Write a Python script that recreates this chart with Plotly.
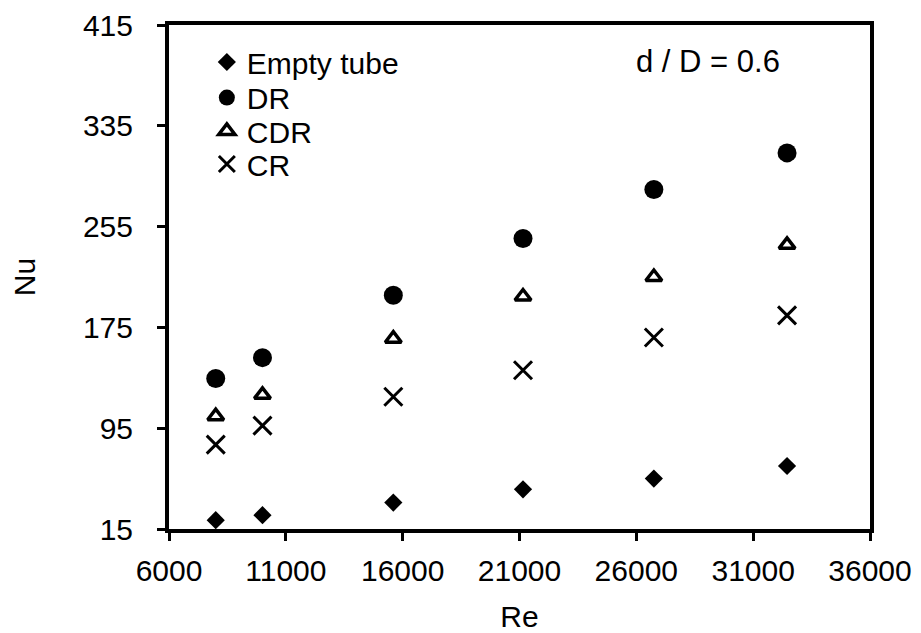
import plotly.graph_objects as go

re_vals = [8000, 10000, 15600, 21150, 26750, 32450]
nu_empty = [22, 26, 36, 46.5, 55, 65]
nu_dr = [134.5, 151, 200.5, 245.5, 284.5, 313.5]
nu_cdr = [104.5, 121.5, 166, 199.5, 215, 240.5]
nu_cr = [82, 97, 120, 141, 167, 184.5]

x_ticks = [6000, 11000, 16000, 21000, 26000, 31000, 36000]
x_ticktext = ["6000", "11000", "16000", "21000", "26000", "31000", "36000"]
y_ticks = [15, 95, 175, 255, 335, 415]
y_ticktext = ["15", "95", "175", "255", "335", "415"]

FONT = "Liberation Sans, Arial, sans-serif"

fig = go.Figure()
fig.add_trace(go.Scatter(x=re_vals, y=nu_empty, mode="markers", name="Empty tube",
                         legend="legend",
                         marker=dict(symbol="diamond", size=14, color="black")))
fig.add_trace(go.Scatter(x=re_vals, y=nu_dr, mode="markers", name="DR",
                         legend="legend2",
                         marker=dict(symbol="circle", size=19, color="black")))
fig.add_trace(go.Scatter(x=re_vals, y=nu_cdr, mode="markers", name="CDR",
                         legend="legend3",
                         marker=dict(symbol="triangle-up-open", size=14, color="black",
                                     line=dict(width=3.5, color="black"))))
fig.add_trace(go.Scatter(x=re_vals, y=nu_cr, mode="markers", name="CR",
                         legend="legend4",
                         marker=dict(symbol="x-thin", size=18, color="black",
                                     line=dict(width=3, color="black"))))

axis_common = dict(showline=True, linewidth=4, linecolor="black", mirror=True,
                   ticks="outside", ticklen=8, tickwidth=3, tickcolor="black",
                   showgrid=False, zeroline=False,
                   tickfont=dict(family=FONT, size=30, color="black"))

def leg(y):
    return dict(x=0.054, y=y, xanchor="left", yanchor="middle",
                bgcolor="rgba(0,0,0,0)", font=dict(size=30, family=FONT),
                itemwidth=30)

fig.update_layout(
    width=913, height=625,
    margin=dict(l=161, r=51, t=17, b=104, autoexpand=False),
    paper_bgcolor="white", plot_bgcolor="white",
    font=dict(family=FONT, color="black"),
    xaxis=dict(range=[6000, 36000], tickvals=x_ticks, ticktext=x_ticktext,
               ticklabelstandoff=4,
               title=dict(text="Re", font=dict(size=30), standoff=24), **axis_common),
    yaxis=dict(range=[15, 415], tickvals=y_ticks, ticktext=y_ticktext,
               ticklabelstandoff=18,
               title=dict(text="Nu", font=dict(size=30), standoff=50), **axis_common),
    legend=leg(0.9266),
    legend2=leg(0.856),
    legend3=leg(0.7897),
    legend4=leg(0.7242),
    showlegend=True,
    annotations=[dict(x=0.874, y=0.9266, xref="paper", yref="paper",
                      text="d / D = 0.6", showarrow=False, xanchor="right",
                      yanchor="middle", font=dict(size=31, family=FONT))],
)

fig.write_html("out.html")
